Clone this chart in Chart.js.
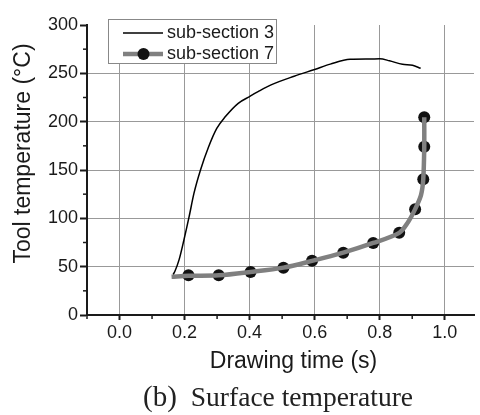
<!DOCTYPE html>
<html lang="en">
<head>
    <meta charset="UTF-8">
    <title>Surface temperature</title>
    <script src="https://cdn.jsdelivr.net/npm/chart.js@4.4.1/dist/chart.umd.min.js"></script>
    <style>
      html, body { margin: 0; padding: 0; background: #fff; overflow: hidden; }
      .wrap { position: relative; width: 480px; height: 415px; }
      .caption {
        position: absolute; left: 143px; top: 382px; white-space: nowrap;
        font-family: 'Liberation Serif', 'DejaVu Serif', serif; color: #222; line-height: 1;
      }
      .caption .lab { font-size: 29px; margin-right: 14px; }
      .caption .txt { font-size: 27.5px; }
    </style>
    <script>
      // sub-section 3 (thin black curve)
      const s3Time = [0.165, 0.170, 0.183, 0.198, 0.214, 0.229, 0.249, 0.274, 0.299, 0.325, 0.365,
                      0.400, 0.426, 0.466, 0.537, 0.600, 0.648, 0.709, 0.769, 0.800, 0.830, 0.870, 0.901, 0.926]
      const s3Temp = [42, 45, 57, 77.6, 101.7, 126, 150, 174, 193, 205, 219,
                      226, 231, 238, 247, 254, 259.5, 264.5, 264.8, 265, 263, 259.3, 258.3, 255.2]

      // sub-section 7 (grey curve, with measured points)
      const s7LineTime = [0.160, 0.212, 0.305, 0.403, 0.504, 0.592, 0.688, 0.780, 0.860, 0.887, 0.909, 0.927, 0.934, 0.937, 0.937]
      const s7LineTemp = [39.5, 40.5, 41, 44.5, 49, 56, 64.5, 74.5, 85, 96, 109.5, 124, 140.5, 174, 204.5]
      const s7PointTime = [0.212, 0.305, 0.403, 0.504, 0.592, 0.688, 0.780, 0.860, 0.909, 0.934, 0.937, 0.937]
      const s7PointTemp = [41, 41, 44.5, 49, 56, 64.5, 74.5, 85, 109.5, 140.5, 174, 204.5]

      const xMajor = [0.0, 0.2, 0.4, 0.6, 0.8, 1.0]
      const xMinor = [-0.1, 0.1, 0.3, 0.5, 0.7, 0.9]
      const yMajor = [0, 50, 100, 150, 200, 250, 300]
      const yMinor = [25, 75, 125, 175, 225, 275]

      const legendNames = ['sub-section 3', 'sub-section 7']
      const xTitle = 'Drawing time (s)'
      const yTitle = 'Tool temperature (°C)'

      const sans = "'Liberation Sans', Arial, sans-serif"
      const ink = '#1a1a1a'
      const grey = '#808080'

      const pairs = (xs, ys) => xs.map((x, i) => ({ x: x, y: ys[i] }))

      const decorations = {
        id: 'decorations',
        afterDraw(chart) {
          const ctx = chart.ctx
          const xs = chart.scales.x, ys = chart.scales.y
          ctx.save()
          // minor ticks
          ctx.strokeStyle = ink
          ctx.lineWidth = 1.5
          xMinor.forEach(v => {
            const px = xs.getPixelForValue(v)
            ctx.beginPath(); ctx.moveTo(px, ys.bottom); ctx.lineTo(px, ys.bottom + 4); ctx.stroke()
          })
          yMinor.forEach(v => {
            const py = ys.getPixelForValue(v)
            ctx.beginPath(); ctx.moveTo(xs.left, py); ctx.lineTo(xs.left - 4, py); ctx.stroke()
          })

          // axis titles
          ctx.fillStyle = ink
          ctx.font = '23px ' + sans
          ctx.textAlign = 'center'
          ctx.textBaseline = 'alphabetic'
          ctx.fillText(xTitle, 293.5, 368)
          ctx.save()
          ctx.translate(30, 153.5)
          ctx.rotate(-Math.PI / 2)
          ctx.fillText(yTitle, 0, 0)
          ctx.restore()

          // legend box
          ctx.fillStyle = '#fff'
          ctx.fillRect(108.5, 19.5, 168, 44)
          ctx.strokeStyle = '#888'
          ctx.lineWidth = 1
          ctx.strokeRect(108.5, 19.5, 168, 44)

          ctx.strokeStyle = '#000'
          ctx.lineWidth = 1.6
          ctx.beginPath(); ctx.moveTo(123, 33); ctx.lineTo(163, 33); ctx.stroke()

          ctx.strokeStyle = grey
          ctx.lineWidth = 4.5
          ctx.beginPath(); ctx.moveTo(123, 54); ctx.lineTo(163, 54); ctx.stroke()
          ctx.fillStyle = '#111'
          ctx.beginPath(); ctx.arc(143.5, 54, 6, 0, Math.PI * 2); ctx.fill()

          ctx.fillStyle = ink
          ctx.font = '18px ' + sans
          ctx.textAlign = 'left'
          ctx.textBaseline = 'middle'
          ctx.fillText(legendNames[0], 167, 33.5)
          ctx.fillText(legendNames[1], 167, 54.5)
          ctx.restore()
        }
      }

      window.onload = function() {
        const ctx = document.getElementById('chart').getContext('2d')

        new Chart(ctx, {
          type: 'line',
          data: {
            datasets: [
              {
                label: legendNames[0],
                data: pairs(s3Time, s3Temp),
                borderColor: '#000',
                borderWidth: 1.5,
                pointRadius: 0,
                cubicInterpolationMode: 'monotone',
                fill: false
              },
              {
                label: legendNames[1],
                data: pairs(s7LineTime, s7LineTemp),
                borderColor: grey,
                borderWidth: 4.5,
                pointRadius: 0,
                tension: 0.3,
                fill: false
              },
              {
                label: legendNames[1] + ' points',
                data: pairs(s7PointTime, s7PointTemp),
                showLine: false,
                pointRadius: 6,
                pointBackgroundColor: '#111',
                pointBorderWidth: 0
              }
            ]
          },
          options: {
            responsive: false,
            animation: false,
            layout: { padding: { top: 25, left: 0, right: 0, bottom: 0 } },
            plugins: { legend: { display: false }, tooltip: { enabled: false } },
            scales: {
              x: {
                type: 'linear',
                min: -0.1,
                max: 1.09,
                afterBuildTicks: (scale) => { scale.ticks = xMajor.map(v => ({ value: v })) },
                afterFit: (scale) => { scale.height = 100 },
                ticks: {
                  color: ink,
                  font: { family: sans, size: 18 },
                  padding: 2,
                  maxRotation: 0,
                  callback: (v) => Number(v).toFixed(1)
                },
                grid: { color: '#999', lineWidth: 1, tickColor: ink, tickLength: 5, tickWidth: 2 },
                border: { color: ink, width: 2 }
              },
              y: {
                min: 0,
                max: 300,
                afterBuildTicks: (scale) => { scale.ticks = yMajor.map(v => ({ value: v })) },
                afterFit: (scale) => { scale.width = 87 },
                ticks: {
                  color: ink,
                  font: { family: sans, size: 18 },
                  padding: 2
                },
                grid: {
                  color: (c) => (c.tick && (c.tick.value === 300 || c.tick.value === 0)) ? 'rgba(0,0,0,0)' : '#999',
                  lineWidth: 1, tickColor: ink, tickLength: 7, tickWidth: 2
                },
                border: { color: ink, width: 2 }
              }
            }
          },
          plugins: [decorations]
        })
      }
    </script>
</head>
<body>
<div class="wrap">
    <canvas id="chart" width="480" height="415"></canvas>
    <div class="caption"><span class="lab">(b)</span><span class="txt">Surface temperature</span></div>
</div>
</body>
</html>
